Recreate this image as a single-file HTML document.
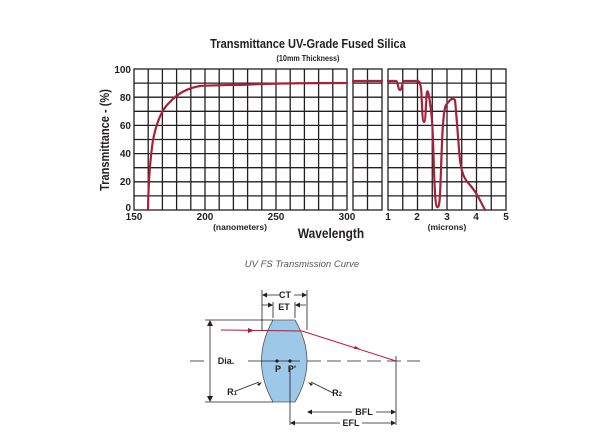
<!DOCTYPE html><html><head><style>body{margin:0;background:#fff}svg{display:block}text{font-family:"Liberation Sans",sans-serif}</style></head><body>
<svg width="615" height="441" viewBox="0 0 615 441">
<g font-family="Liberation Sans Narrow, Liberation Sans" fill="#231f20">
<text x="308" y="48" font-size="13" text-anchor="middle" font-weight="bold" transform="translate(308 0) scale(0.85 1) translate(-308 0)">Transmittance UV-Grade Fused Silica</text>
<text x="308" y="61" font-size="8.5" text-anchor="middle" font-weight="bold" transform="translate(308 0) scale(0.85 1) translate(-308 0)">(10mm Thickness)</text>
<g font-size="10" font-weight="bold" text-anchor="end">
<text x="131" y="73">100</text><text x="131" y="101">80</text><text x="131" y="129">60</text><text x="131" y="157">40</text><text x="131" y="185">20</text><text x="131" y="211">0</text></g>
<g font-size="10" font-weight="bold" text-anchor="middle">
<text x="134" y="220">150</text><text x="205" y="220">200</text><text x="276" y="220">250</text><text x="347" y="220">300</text>
<text x="388" y="220">1</text><text x="417" y="220">2</text><text x="447" y="220">3</text><text x="476" y="220">4</text><text x="506" y="220">5</text></g>
<text x="240" y="230" font-size="8.5" font-weight="bold" text-anchor="middle">(nanometers)</text>
<text x="447" y="230" font-size="8.5" font-weight="bold" text-anchor="middle">(microns)</text>
<text x="331" y="238" font-size="14" font-weight="bold" text-anchor="middle" transform="translate(331 0) scale(0.85 1) translate(-331 0)">Wavelength</text>
<text transform="translate(109 140) rotate(-90) scale(0.85 1)" font-size="13" font-weight="bold" text-anchor="middle">Transmittance - (%)</text>
</g>
<g stroke="#231f20" stroke-width="1.3" fill="none">
<rect x="134" y="69" width="213" height="141"/>
<rect x="353" y="69" width="29" height="141"/>
<rect x="388" y="69" width="118" height="141"/>
<path d="M148.2 69V210M162.4 69V210M176.6 69V210M190.8 69V210M205 69V210M219.2 69V210M233.4 69V210M247.6 69V210M261.8 69V210M276 69V210M290.2 69V210M304.4 69V210M318.6 69V210M332.8 69V210M367.5 69V210M402.75 69V210M417.5 69V210M432.25 69V210M447 69V210M461.75 69V210M476.5 69V210M491.25 69V210"/>
<path d="M134 83.1H347M134 97.2H347M134 111.3H347M134 125.4H347M134 139.5H347M134 153.6H347M134 167.7H347M134 181.8H347M134 195.9H347M353 83.1H382M353 97.2H382M353 111.3H382M353 125.4H382M353 139.5H382M353 153.6H382M353 167.7H382M353 181.8H382M353 195.9H382M388 83.1H506M388 97.2H506M388 111.3H506M388 125.4H506M388 139.5H506M388 153.6H506M388 167.7H506M388 181.8H506M388 195.9H506"/>
</g>
<g stroke="#a8213a" stroke-width="2.2" fill="none" stroke-linecap="round">
<path d="M148 210 C148.5 180 150 160 153 140 C157 120 163 108 170 102 C178 93 188 88 200 86 C215 85 240 85 250 84.5 C270 83.5 300 83 347 83"/>
<path d="M353 81 L382 81"/>
<path d="M388 81 L396 81 C398 81 398 90 400 90 C402 90 402 81 404 81 L417 81 C420 81 420 83 421 88 C422 96 422 122 424 122 C426 122 426 95 427 92 C428 88 430 100 432 120 C434 150 434 205 437 207 C440 209 440 195 441 170 C442 140 443 110 446 105 C450 100 452 97 455 100 C457 120 458 140 460 160 C462 175 465 180 470 185 C476 192 480 200 485 210"/>
</g>
<text x="302" y="267" font-size="9.5" font-style="italic" fill="#555" text-anchor="middle">UV FS Transmission Curve</text>
<path d="M273 320 L295 320 Q319 361 295 402 L273 402 Q250 361 273 320Z" fill="#9ec8e8" stroke="#555" stroke-width="0.8"/>
<g stroke="#231f20" stroke-width="0.8" fill="none">
<path d="M205 320H273M205 402H273M210 322V400M262 290V330M307 290V330M273 302V318M295 302V318"/>
<path d="M190 361H204M248 361H300"/>
<path d="M307 361H420" stroke-dasharray="14 6"/>
<path d="M264 295H280M294 295H305M262 305H271M297 305H306M396 356V425M290 367V425M309 412H352M376 412H394M292 423H340M362 423H394"/>
</g>
<g fill="#231f20"><path d="M210 320l-3 6h6zM210 402l-3-6h6zM262 295l5-2.5v5zM307 295l-5-2.5v5zM273 305l-5-2.5v5zM295 305l5-2.5v5zM307 412l5-2.5v5zM396 412l-5-2.5v5zM290 423l5-2.5v5zM396 423l-5-2.5v5z"/>
<circle cx="277" cy="361" r="1.6"/><circle cx="290" cy="361" r="1.6"/>
<path d="M262 382l-5 2 2 2z M308 382l5 2-2 2z"/></g>
<g stroke="#231f20" stroke-width="0.8"><path d="M236 391L259 382M333 393L311 382"/></g>
<path d="M221 330L302 331L396 361" stroke="#c8102e" stroke-width="1" fill="none"/>
<path d="M248 328l6 2.5-6 2.5zM355 346l5 3-6 0z" fill="#c8102e"/>
<g font-family="Liberation Sans" font-weight="bold" font-size="9" fill="#231f20" text-anchor="middle">
<text x="285" y="298">CT</text><text x="284" y="310">ET</text><text x="226" y="364">Dia.</text>
<text x="278" y="372">P</text><text x="292" y="372">P'</text><text x="232" y="395">R<tspan font-size="6">1</tspan></text><text x="337" y="396">R<tspan font-size="6">2</tspan></text>
<text x="364" y="415">BFL</text><text x="351" y="426">EFL</text></g>
</svg></body></html>
